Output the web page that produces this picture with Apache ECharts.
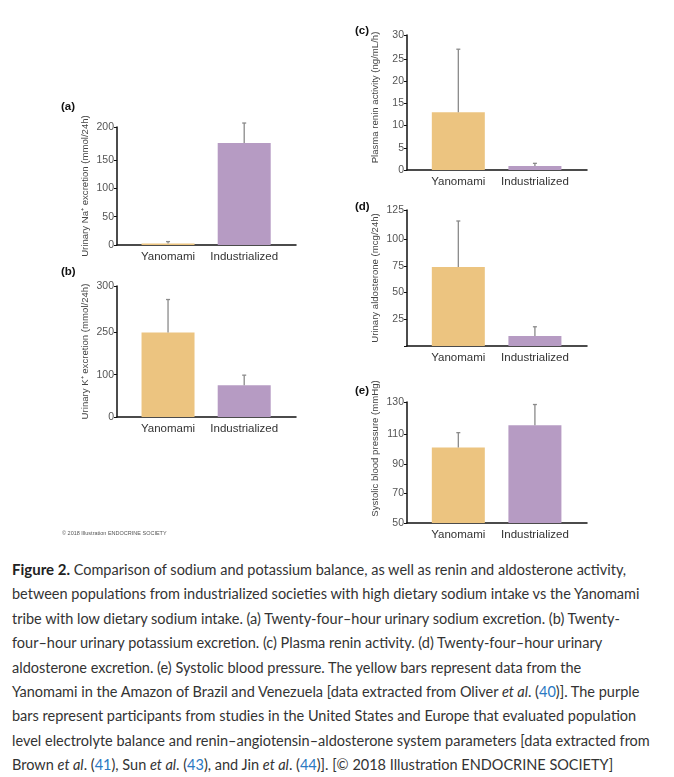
<!DOCTYPE html>
<html>
<head>
<meta charset="utf-8">
<script src="https://cdn.jsdelivr.net/npm/echarts@6/dist/echarts.min.js"></script>
<style>
  html, body { margin: 0; padding: 0; background: #fff; }
  #chart { width: 674px; height: 548px; }
  #caption {
    position: absolute; left: 12px; top: 557px;
    font-family: Lato, "Noto Sans", sans-serif; font-size: 14.5px; line-height: 24.4px;
    color: #333; white-space: nowrap;
  }
  #caption b { color: #222; font-size: 15px; }
  #caption .ref { color: #2a79c2; }
</style>
</head>
<body>
<div id="chart"></div>
<div id="caption"><b>Figure 2.</b> Comparison of sodium and potassium balance, as well as renin and aldosterone activity,<br>between populations from industrialized societies with high dietary sodium intake vs the Yanomami<br>tribe with low dietary sodium intake. (a) Twenty-four–hour urinary sodium excretion. (b) Twenty-<br>four–hour urinary potassium excretion. (c) Plasma renin activity. (d) Twenty-four–hour urinary<br>aldosterone excretion. (e) Systolic blood pressure. The yellow bars represent data from the<br>Yanomami in the Amazon of Brazil and Venezuela [data extracted from Oliver <i>et al</i>. (<span class="ref">40</span>)]. The purple<br>bars represent participants from studies in the United States and Europe that evaluated population<br>level electrolyte balance and renin–angiotensin–aldosterone system parameters [data extracted from<br>Brown <i>et al</i>. (<span class="ref">41</span>), Sun <i>et al</i>. (<span class="ref">43</span>), and Jin <i>et al</i>. (<span class="ref">44</span>)]. [© 2018 Illustration ENDOCRINE SOCIETY]</div>
<script>
// ---- data ----
const categories = ['Yanomami', 'Industrialized'];
const barColors = ['#ecc480', '#b69bc3'];

const naMean = [2.5, 180];      // (a) urinary Na+ (mmol/24h)
const naUpper = [6, 215];
const naTicks = ['0', '50', '100', '150', '200'];

const kMean = [200, 75];        // (b) urinary K+ (position on axis whose ticks read 0,100,250,300)
const kUpper = [278, 99];
const kTicks = ['0', '100', '250', '300'];

const reninMean = [13, 0.9];    // (c) plasma renin activity (ng/mL/h)
const reninUpper = [27.2, 1.5];
const reninTicks = ['0', '5', '10', '15', '20', '25', '30'];

const aldoMean = [74, 9.4];     // (d) urinary aldosterone (mcg/24h)
const aldoUpper = [117, 18];
const aldoTicks = ['', '25', '50', '75', '100', '125'];

const sbpMean = [101, 116];     // (e) systolic blood pressure (mmHg)
const sbpUpper = [111, 130];
const sbpTicks = ['50', '70', '90', '110', '130'];

const panelLabels = ['(a)', '(b)', '(c)', '(d)', '(e)'];

// ---- build ----
const FONT = '"Liberation Sans Narrow", "Liberation Sans", Arial, sans-serif';
const panels = [
  { name: 'Urinary Na\u207A excretion (mmol/24h)', mean: naMean, upper: naUpper, ticks: naTicks, shift: 0,
    grid: { left: 117, top: 127, width: 179, height: 118 }, min: 0, max: 208, interval: 50 },
  { name: 'Urinary K\u207A excretion (mmol/24h)', mean: kMean, upper: kUpper, ticks: kTicks, shift: 0,
    grid: { left: 117, top: 286, width: 179, height: 131 }, min: 0, max: 310, interval: 100 },
  { name: 'Plasma renin activity (ng/mL/h)', mean: reninMean, upper: reninUpper, ticks: reninTicks, shift: 10,
    grid: { left: 407, top: 35, width: 180, height: 135 }, min: 0, max: 30.4, interval: 5 },
  { name: 'Urinary aldosterone (mcg/24h)', mean: aldoMean, upper: aldoUpper, ticks: aldoTicks, shift: 0,
    grid: { left: 407, top: 210, width: 180, height: 136 }, min: 0, max: 127.3, interval: 25 },
  { name: 'Systolic blood pressure (mmHg)', mean: sbpMean, upper: sbpUpper, ticks: sbpTicks, shift: 28,
    grid: { left: 407, top: 402, width: 180, height: 121 }, min: 50, max: 131.7, interval: 20 }
];

const grids = [], xAxes = [], yAxes = [], series = [];
panels.forEach((p, i) => {
  grids.push(p.grid);
  xAxes.push({
    type: 'value', gridIndex: i, min: 0.33, max: 2.68,
    axisLine: { show: true, onZero: false, lineStyle: { color: '#111', width: 1.5 } },
    axisTick: { show: false }, splitLine: { show: false },
    axisLabel: {
      customValues: [1, 2], margin: 6, color: '#333', fontSize: 11.5, fontFamily: FONT,
      formatter: v => categories[Math.round(v) - 1] || ''
    }
  });
  yAxes.push({
    type: 'value', gridIndex: i, min: p.min, max: p.max, interval: p.interval,
    name: p.name, nameLocation: 'middle', nameGap: 27,
    nameTextStyle: { color: '#444', fontSize: 9.6, fontFamily: FONT, padding: [0, 0, 0, p.shift] },
    axisLine: { show: true, lineStyle: { color: '#111', width: 1.5 } },
    axisTick: { show: true, length: 3, lineStyle: { color: '#111' } },
    splitLine: { show: false },
    axisLabel: {
      margin: 3, color: '#555', fontSize: 10.5, fontFamily: FONT, showMaxLabel: true,
      formatter: v => { const k = Math.round((v - p.min) / p.interval); return p.ticks[k] !== undefined ? p.ticks[k] : ''; }
    }
  });
  series.push({
    type: 'bar', xAxisIndex: i, yAxisIndex: i, barWidth: 53, silent: true,
    data: p.mean.map((m, j) => ({ value: [j + 1, m], itemStyle: { color: barColors[j] } }))
  });
  series.push({
    type: 'custom', xAxisIndex: i, yAxisIndex: i, silent: true, z: 3,
    data: p.mean.map((m, j) => [j + 1, m, p.upper[j]]),
    renderItem: (params, api) => {
      const b = api.coord([api.value(0), api.value(1)]);
      const t = api.coord([api.value(0), api.value(2)]);
      const st = { stroke: '#8a8a8a', lineWidth: 1.3 };
      return { type: 'group', children: [
        { type: 'line', shape: { x1: b[0], y1: b[1], x2: t[0], y2: t[1] }, style: st },
        { type: 'line', shape: { x1: t[0] - 2, y1: t[1], x2: t[0] + 2, y2: t[1] }, style: st }
      ] };
    }
  });
});

const labelPos = [[61, 108], [61, 273], [355, 32], [355, 208], [355, 392]];
const graphics = panelLabels.map((t, i) => ({
  type: 'text', left: labelPos[i][0], top: labelPos[i][1] - 7,
  style: { text: t, font: 'bold 11.5px ' + FONT, fill: '#111' }
}));
graphics.push({
  type: 'text', left: 62, top: 530,
  style: { text: '\u00A9 2018 Illustration ENDOCRINE SOCIETY', font: '5.5px ' + FONT, fill: '#555' }
});

const chart = echarts.init(document.getElementById('chart'), null, { renderer: 'canvas' });
chart.setOption({
  animation: false,
  backgroundColor: '#fff',
  grid: grids, xAxis: xAxes, yAxis: yAxes, series: series, graphic: graphics
});
</script>
</body>
</html>
